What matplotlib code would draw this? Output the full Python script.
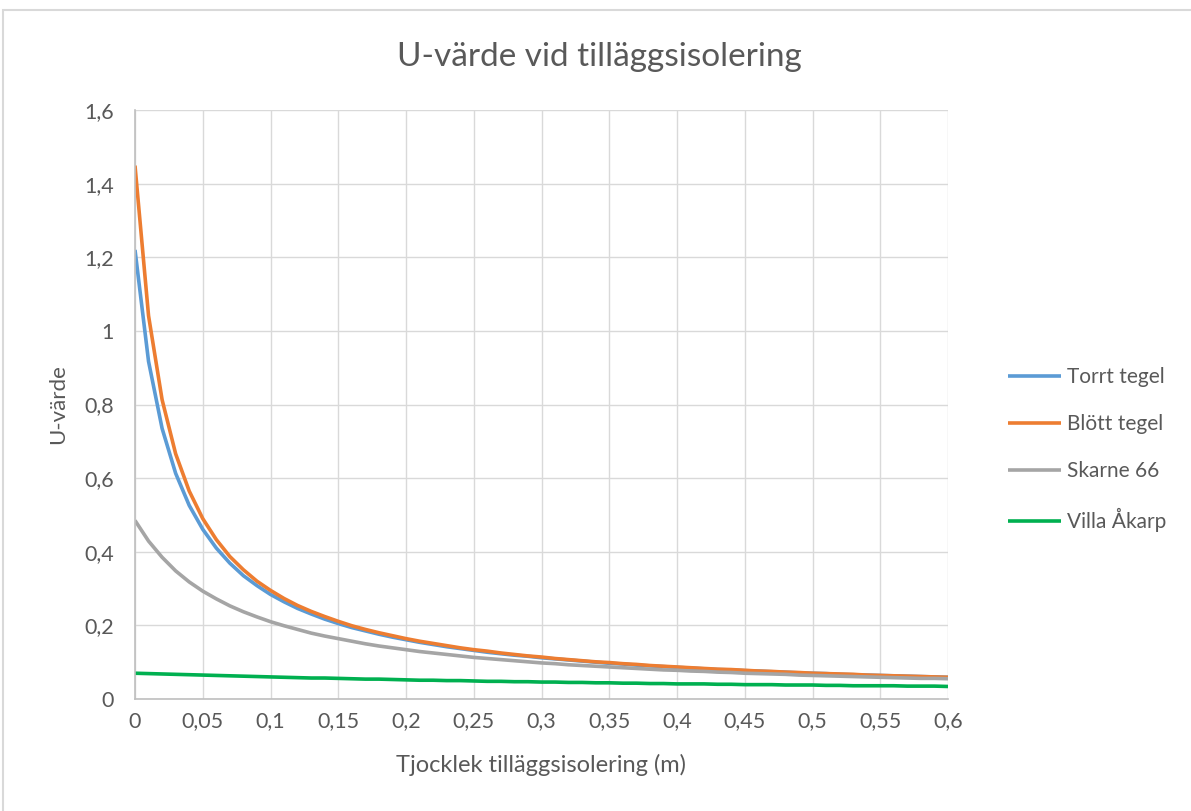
import matplotlib.pyplot as plt
from matplotlib.patches import Rectangle
from matplotlib.ticker import FuncFormatter, MultipleLocator
import numpy as np

# tjocklek 0 .. 0.6 m, steg 0.01
x = [i / 100 for i in range(61)]

torrt_tegel = [1.220, 0.917, 0.735, 0.613, 0.526, 0.461, 0.410, 0.369, 0.335, 0.308,
               0.284, 0.264, 0.246, 0.231, 0.217, 0.205, 0.194, 0.185, 0.176, 0.168,
               0.161, 0.154, 0.148, 0.142, 0.137, 0.132, 0.127, 0.123, 0.119, 0.116,
               0.112, 0.109, 0.106, 0.103, 0.100, 0.097, 0.095, 0.092, 0.090, 0.088,
               0.086, 0.084, 0.082, 0.080, 0.079, 0.077, 0.076, 0.074, 0.073, 0.071,
               0.070, 0.069, 0.067, 0.066, 0.065, 0.064, 0.063, 0.062, 0.061, 0.060,
               0.059]
blott_tegel = [1.449, 1.041, 0.813, 0.666, 0.565, 0.490, 0.433, 0.387, 0.351, 0.320,
               0.295, 0.273, 0.254, 0.238, 0.224, 0.211, 0.199, 0.189, 0.180, 0.172,
               0.164, 0.157, 0.151, 0.145, 0.139, 0.134, 0.130, 0.125, 0.121, 0.117,
               0.114, 0.110, 0.107, 0.104, 0.101, 0.099, 0.096, 0.094, 0.091, 0.089,
               0.087, 0.085, 0.083, 0.081, 0.080, 0.078, 0.076, 0.075, 0.073, 0.072,
               0.070, 0.069, 0.068, 0.067, 0.065, 0.064, 0.063, 0.062, 0.061, 0.060,
               0.059]
skarne_66 = [0.485, 0.429, 0.385, 0.348, 0.318, 0.293, 0.272, 0.253, 0.237, 0.223,
             0.210, 0.199, 0.189, 0.179, 0.171, 0.164, 0.157, 0.150, 0.144, 0.139,
             0.134, 0.129, 0.125, 0.121, 0.117, 0.113, 0.110, 0.107, 0.104, 0.101,
             0.098, 0.096, 0.093, 0.091, 0.089, 0.087, 0.085, 0.083, 0.081, 0.079,
             0.078, 0.076, 0.075, 0.073, 0.072, 0.070, 0.069, 0.068, 0.067, 0.065,
             0.064, 0.063, 0.062, 0.061, 0.060, 0.059, 0.058, 0.057, 0.056, 0.056,
             0.055]
villa_akarp = [0.070, 0.069, 0.068, 0.067, 0.066, 0.065, 0.064, 0.063, 0.062, 0.061,
               0.060, 0.059, 0.058, 0.057, 0.057, 0.056, 0.055, 0.054, 0.054, 0.053,
               0.052, 0.051, 0.051, 0.050, 0.050, 0.049, 0.048, 0.048, 0.047, 0.047,
               0.046, 0.046, 0.045, 0.045, 0.044, 0.044, 0.043, 0.043, 0.042, 0.042,
               0.041, 0.041, 0.041, 0.040, 0.040, 0.039, 0.039, 0.039, 0.038, 0.038,
               0.038, 0.037, 0.037, 0.036, 0.036, 0.036, 0.036, 0.035, 0.035, 0.035,
               0.034]

series = [
    ("Torrt tegel", torrt_tegel, "#5B9BD5"),
    ("Blött tegel", blott_tegel, "#ED7D31"),
    ("Skarne 66", skarne_66, "#A5A5A5"),
    ("Villa Åkarp", villa_akarp, "#00B050"),
]

plt.rcParams['font.family'] = ['Lato', 'DejaVu Sans']
txt = "#595959"

fig = plt.figure(figsize=(11.91, 8.11), dpi=100)
fig.patches.append(Rectangle((3 / 1191, -0.01), 1.1, 1 - 10 / 811 + 0.01,
                             transform=fig.transFigure, fill=False,
                             edgecolor="#D9D9D9", linewidth=1.5))
ax = fig.add_axes([135 / 1191, 1 - 699 / 811, (948 - 135) / 1191, (699 - 110) / 811])

for name, vals, col in series:
    ax.plot(x, vals, color=col, linewidth=2.6, label=name, solid_capstyle="butt")

ax.set_xlim(0, 0.6)
ax.set_ylim(0, 1.6)
ax.xaxis.set_major_locator(MultipleLocator(0.05))
ax.yaxis.set_major_locator(MultipleLocator(0.2))
fmt = FuncFormatter(lambda v, p: ("%g" % round(v, 2)).replace(".", ","))
ax.xaxis.set_major_formatter(fmt)
ax.yaxis.set_major_formatter(fmt)
ax.grid(True, color="#D9D9D9", linewidth=1.0)
ax.set_axisbelow(True)
for s in ["top", "right"]:
    ax.spines[s].set_visible(False)
for s in ["left", "bottom"]:
    ax.spines[s].set_color("#BFBFBF")
    ax.spines[s].set_linewidth(1.2)
ax.tick_params(axis="both", length=0, labelsize=15.5, labelcolor=txt)
ax.tick_params(axis="y", pad=15)
ax.tick_params(axis="x", pad=9)

fig.text(0.503, 1 - 57 / 811, "U-värde vid tilläggsisolering", fontsize=24,
         color=txt, ha="center", va="center")
ax.set_xlabel("Tjocklek tilläggsisolering (m)", fontsize=17, color=txt, labelpad=16)
ax.set_ylabel("U-värde", fontsize=16, color=txt, labelpad=12)

leg = ax.legend(loc="center left", bbox_to_anchor=(1.0, 0.5 - 45 / 589), frameon=False,
                fontsize=15, handlelength=2.5, handletextpad=0.3, labelspacing=1.3,
                borderaxespad=2.5)
for t in leg.get_texts():
    t.set_color(txt)

plt.savefig("out.png", dpi=100)
